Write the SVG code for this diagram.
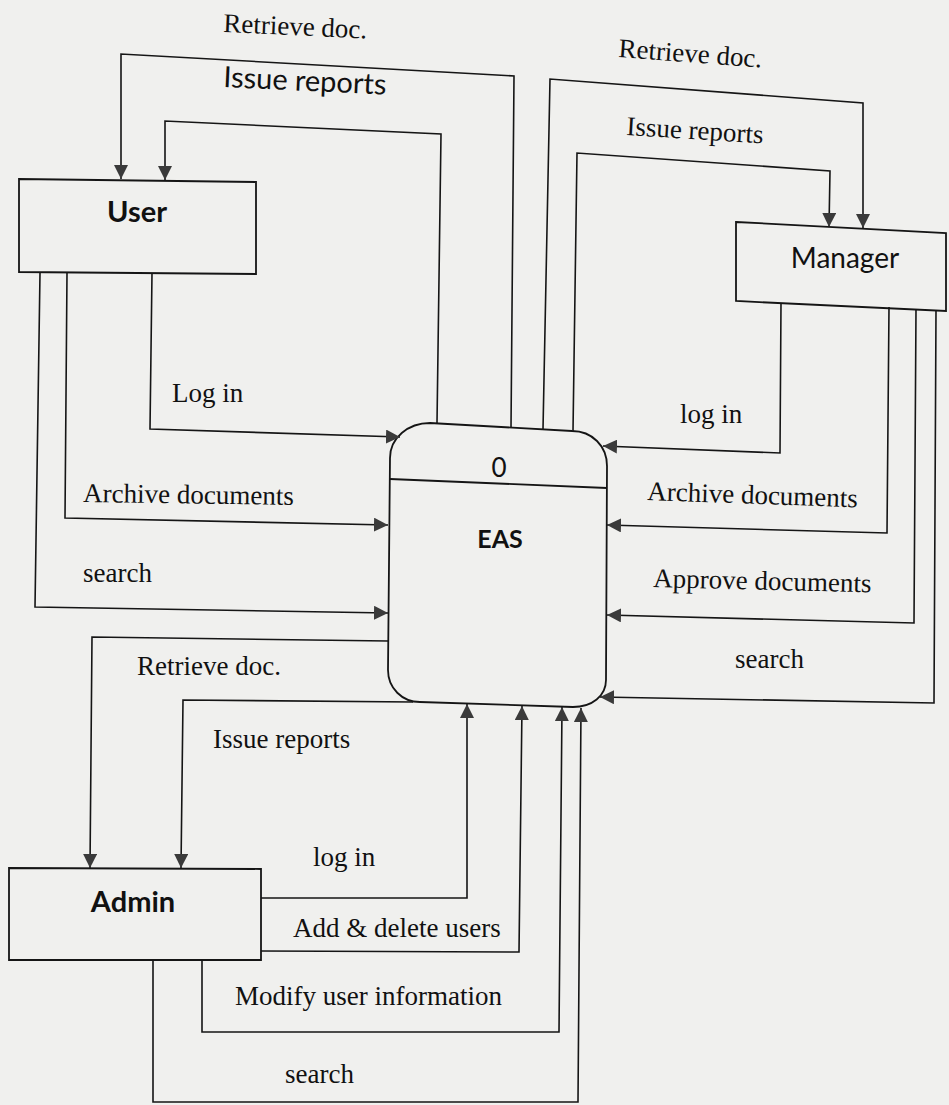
<svg xmlns="http://www.w3.org/2000/svg" width="949" height="1105" viewBox="0 0 949 1105">
  <defs>
    <marker id="ah" viewBox="0 0 14 14" refX="14" refY="7" markerWidth="14" markerHeight="14" markerUnits="userSpaceOnUse" orient="auto">
      <path d="M0,0 L14,7 L0,14 Z" fill="#3a3a3a"/>
    </marker>
    <style>
      .box { fill: none; stroke: #151515; stroke-width: 1.8; }
      .flow { fill: none; stroke: #151515; stroke-width: 1.6; marker-end: url(#ah); }
      .lbl { font-family: "Liberation Serif", "Times New Roman", serif; font-size: 27px; fill: #111; }
      .lbls { font-family: Lato, "Open Sans", sans-serif; font-size: 29px; fill: #111; }
      .name { font-family: Lato, "Open Sans", sans-serif; fill: #111; text-anchor: middle; }
    </style>
  </defs>

  <rect width="949" height="1105" fill="#f0f0ee"/>

  <!-- external entity: User -->
  <g id="user">
    <polygon class="box" points="19,179 256,182 256,274 19,272"/>
    <text class="name" x="137" y="222" font-size="29" font-weight="bold">User</text>
  </g>

  <!-- external entity: Manager -->
  <g id="manager">
    <polygon class="box" points="736,222 946,233 946,311 736,301"/>
    <text class="name" x="845" y="268" font-size="28">Manager</text>
  </g>

  <!-- external entity: Admin -->
  <g id="admin">
    <polygon class="box" points="9,868 261,869 261,960 9,960"/>
    <text class="name" x="133" y="912" font-size="29" font-weight="bold">Admin</text>
  </g>

  <!-- process 0: EAS -->
  <g id="eas">
    <path class="box" d="M390,458 C390,438 408,423 430,423 L572,431 C592,431 607,446 607,466 L606,680 C606,696 592,707 573,707 L420,702 C402,702 388,688 388,670 Z"/>
    <line class="box" x1="390" y1="479" x2="607" y2="488"/>
    <text class="name" x="499" y="477" font-size="26">0</text>
    <text class="name" x="500" y="548" font-size="25" font-weight="bold">EAS</text>
  </g>

  <!-- data flows -->
  <g id="connectors">
    <!-- EAS to User -->
    <polyline class="flow" points="511,428 514,76 121,54 121,179"/>
    <polyline class="flow" points="437,423 441,134 165,121 165,180"/>
    <!-- EAS to Manager -->
    <polyline class="flow" points="543,429 550,79 863,103 863,228"/>
    <polyline class="flow" points="573,431 577,153 830,171 829,227"/>
    <!-- User to EAS -->
    <polyline class="flow" points="152,273 150,429 400,437"/>
    <polyline class="flow" points="67,273 65,518 388,525"/>
    <polyline class="flow" points="40,273 35,607 388,613"/>
    <!-- Manager to EAS -->
    <polyline class="flow" points="781,303 780,453 603,446"/>
    <polyline class="flow" points="889,307 887,533 607,525"/>
    <polyline class="flow" points="916,309 914,623 607,615"/>
    <polyline class="flow" points="936,310 934,703 600,697"/>
    <!-- EAS to Admin -->
    <polyline class="flow" points="388,641 92,637 90,868"/>
    <polyline class="flow" points="413,702 183,700 181,868"/>
    <!-- Admin to EAS -->
    <polyline class="flow" points="261,898 467,898 467,704"/>
    <polyline class="flow" points="261,951 519,952 522,706"/>
    <polyline class="flow" points="202,960 202,1032 559,1032 562,707"/>
    <polyline class="flow" points="153,960 153,1102 578,1102 581,708"/>
  </g>

  <!-- flow labels -->
  <g id="labels">
    <text class="lbl" x="223" y="32" font-size="28" transform="rotate(2.6 223 32)">Retrieve doc.</text>
    <text class="lbls" x="223" y="87" transform="rotate(2.7 223 87)">Issue reports</text>
    <text class="lbl" x="618" y="57" transform="rotate(4.2 618 57)">Retrieve doc.</text>
    <text class="lbl" x="626" y="135" transform="rotate(3.5 626 135)">Issue reports</text>
    <text class="lbl" x="172" y="402">Log in</text>
    <text class="lbl" x="83" y="502" transform="rotate(0.8 83 502)">Archive documents</text>
    <text class="lbl" x="83" y="582">search</text>
    <text class="lbl" x="680" y="423">log in</text>
    <text class="lbl" x="647" y="500" transform="rotate(2 647 500)">Archive documents</text>
    <text class="lbl" x="653" y="587" transform="rotate(1.4 653 587)">Approve documents</text>
    <text class="lbl" x="735" y="668">search</text>
    <text class="lbl" x="137" y="675" font-size="28">Retrieve doc.</text>
    <text class="lbl" x="213" y="748" font-size="28">Issue reports</text>
    <text class="lbl" x="313" y="866">log in</text>
    <text class="lbl" x="293" y="937">Add &amp; delete users</text>
    <text class="lbl" x="235" y="1005">Modify user information</text>
    <text class="lbl" x="285" y="1083">search</text>
  </g>
</svg>
